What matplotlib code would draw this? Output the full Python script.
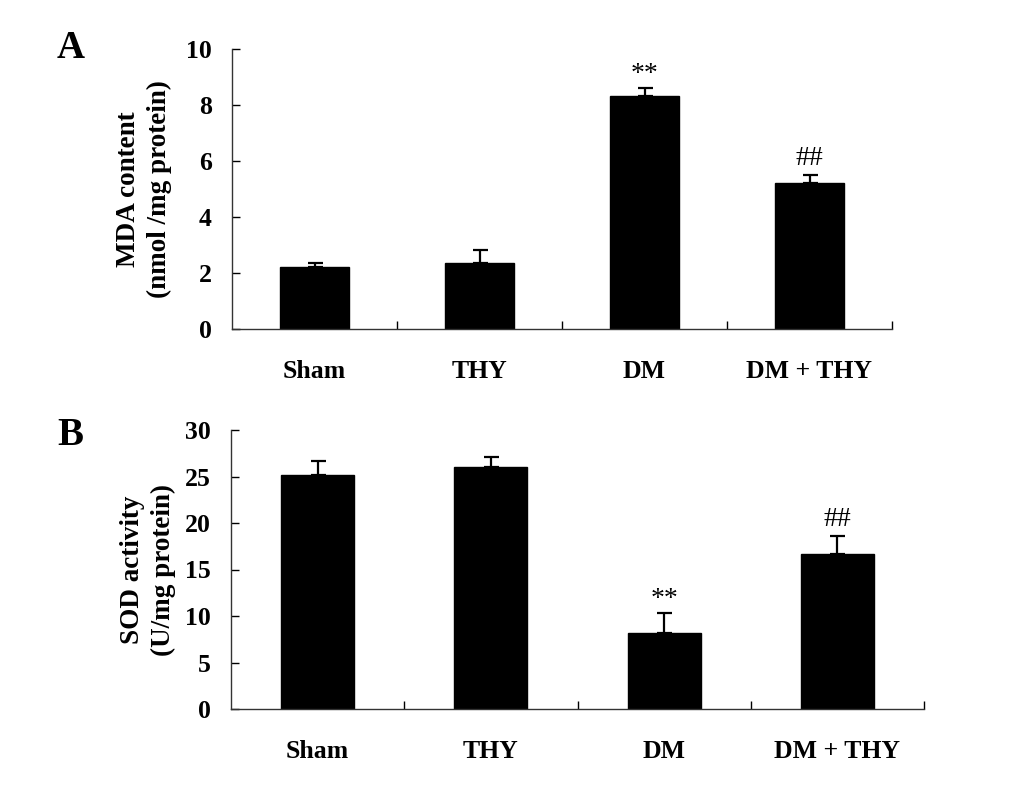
import matplotlib
matplotlib.use("Agg")
import matplotlib.pyplot as plt
import numpy as np

plt.rcParams['font.family'] = ['Liberation Serif', 'DejaVu Serif']

# groups and measured values (mean + upper SEM)
groups = ['Sham', 'THY', 'DM', 'DM + THY']
mda_mean = [2.22, 2.34, 8.32, 5.21]
mda_err = [0.12, 0.48, 0.30, 0.30]
sod_mean = [25.2, 26.05, 8.2, 16.65]
sod_err = [1.5, 1.05, 2.15, 1.95]
mda_marks = ['', '', '**', '##']
sod_marks = ['', '', '**', '##']

fig = plt.figure(figsize=(10.33, 7.91), dpi=100)
W, H = 1033.0, 791.0

# axes boxes in pixels: left, top, right, bottom
axA = fig.add_axes([232/W, 1-329/H, (892-232)/W, (329-49)/H])
axB = fig.add_axes([231/W, 1-709/H, (924-231)/W, (709-430)/H])


def panel(ax, means, errs, marks, ymax, ystep, ylabel, labx):
    x = np.arange(len(groups))
    ax.bar(x, means, width=0.42, color='black', edgecolor='black', zorder=2)
    ax.errorbar(x, means, yerr=[np.zeros(len(errs)), errs], fmt='none',
                ecolor='black', elinewidth=1.6, capsize=5.4, capthick=1.6, zorder=3)
    for xi, m, e, t in zip(x, means, errs, marks):
        if t:
            off = 5 if t == '**' else 7
            ax.annotate(t, (xi, m + e), xytext=(0, off), textcoords='offset points',
                        ha='center', va='baseline', fontsize=20)
    ax.set_xlim(-0.5, len(groups) - 0.5)
    ax.set_ylim(0, ymax)
    ax.set_yticks(np.arange(0, ymax + 0.1, ystep))
    ax.set_xticks(x)
    ax.set_xticklabels(groups, fontsize=18.5, fontweight='bold')
    ax.set_xticks(np.arange(0.5, len(groups)), minor=True)
    ax.tick_params(axis='x', which='major', length=0, pad=22)
    ax.tick_params(axis='x', which='minor', direction='in', length=6, width=1)
    ax.tick_params(axis='y', direction='in', length=6, width=1, pad=14.5, labelsize=18.5)
    for lab in ax.get_yticklabels():
        lab.set_fontweight('bold')
    for s in ['top', 'right']:
        ax.spines[s].set_visible(False)
    for s in ['left', 'bottom']:
        ax.spines[s].set_linewidth(1.0)
        ax.spines[s].set_color('#333333')
    ax.set_ylabel(ylabel, fontsize=19.5, fontweight='bold', linespacing=1.3)
    ax.yaxis.set_label_coords(labx, 0.5)


panel(axA, mda_mean, mda_err, mda_marks, 10, 2,
      'MDA content\n(nmol /mg protein)', (172-232)/660)
panel(axB, sod_mean, sod_err, sod_marks, 30, 5,
      'SOD activity\n(U/mg protein)', (176-231)/693)

fig.text(57/W, 1-58/H, 'A', fontsize=28, fontweight='bold', ha='left', va='baseline')
fig.text(57/W, 1-445/H, 'B', fontsize=28, fontweight='bold', ha='left', va='baseline')

plt.savefig('out.png', dpi=100)
